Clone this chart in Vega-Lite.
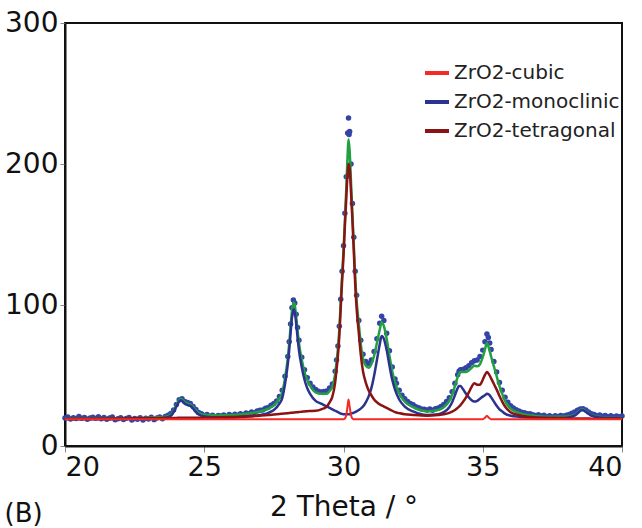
{
  "$schema": "https://vega.github.io/schema/vega-lite/v6.json",
  "width": 557,
  "height": 423,
  "autosize": {"type": "none"},
  "padding": {"left": 65, "top": 23, "right": 20, "bottom": 82},
  "background": "white",
  "config": {
    "view": {"stroke": "#111", "strokeWidth": 2},
    "font": "DejaVu Sans"
  },
  "title": {"text": "(B)", "orient": "bottom", "anchor": "start", "frame": "bounds", "fontSize": 26, "font": "DejaVu Sans", "fontWeight": "normal", "color": "#111", "offset": -20},
  "datasets": {
    "obs": [
      {"x":20.0,"y":19.8},{"x":20.1,"y":20.6},{"x":20.2,"y":19.2},{"x":20.3,"y":20.1},{"x":20.4,"y":19.5},{"x":20.5,"y":20.9},{"x":20.6,"y":19.7},{"x":20.7,"y":20.3},{"x":20.8,"y":18.9},{"x":20.9,"y":19.9},
      {"x":21.0,"y":20.4},{"x":21.1,"y":19.6},{"x":21.2,"y":20.8},{"x":21.3,"y":19.3},{"x":21.4,"y":20.2},{"x":21.5,"y":19.0},{"x":21.6,"y":19.9},{"x":21.7,"y":20.5},{"x":21.8,"y":18.6},{"x":21.9,"y":19.4},
      {"x":22.0,"y":20.1},{"x":22.1,"y":18.8},{"x":22.2,"y":19.6},{"x":22.3,"y":20.3},{"x":22.4,"y":18.4},{"x":22.5,"y":19.5},{"x":22.6,"y":18.9},{"x":22.7,"y":20.0},{"x":22.8,"y":18.5},{"x":22.9,"y":19.7},
      {"x":23.0,"y":19.2},{"x":23.1,"y":20.4},{"x":23.2,"y":18.7},{"x":23.3,"y":19.9},{"x":23.4,"y":20.6},{"x":23.5,"y":19.4},{"x":23.6,"y":21.0},{"x":23.7,"y":21.8},{"x":23.8,"y":23.0},{"x":23.9,"y":25.5},
      {"x":24.0,"y":29.5},{"x":24.1,"y":32.8},{"x":24.2,"y":33.6},{"x":24.3,"y":31.5},{"x":24.4,"y":30.8},{"x":24.5,"y":30.2},{"x":24.6,"y":28.0},{"x":24.7,"y":25.9},{"x":24.8,"y":23.8},{"x":24.9,"y":22.9},
      {"x":25.0,"y":21.6},{"x":25.1,"y":22.4},{"x":25.2,"y":21.1},{"x":25.3,"y":21.9},{"x":25.4,"y":20.8},{"x":25.5,"y":21.7},{"x":25.6,"y":21.2},{"x":25.7,"y":22.0},{"x":25.8,"y":21.0},{"x":25.9,"y":22.3},
      {"x":26.0,"y":21.5},{"x":26.1,"y":22.6},{"x":26.2,"y":21.8},{"x":26.3,"y":22.9},{"x":26.4,"y":22.2},{"x":26.5,"y":23.4},{"x":26.6,"y":22.9},{"x":26.7,"y":24.1},{"x":26.8,"y":23.6},{"x":26.9,"y":24.8},
      {"x":27.0,"y":25.3},{"x":27.1,"y":25.6},{"x":27.2,"y":26.8},{"x":27.3,"y":27.4},{"x":27.4,"y":28.9},{"x":27.5,"y":30.1},{"x":27.6,"y":32.0},{"x":27.7,"y":35.2},{"x":27.8,"y":39.5},{"x":27.9,"y":49.5},
      {"x":28.0,"y":63.5},{"x":28.05,"y":74},{"x":28.1,"y":86.5},{"x":28.15,"y":98},{"x":28.2,"y":103.5},{"x":28.25,"y":101.5},{"x":28.3,"y":93.5},{"x":28.35,"y":84},{"x":28.4,"y":75},{"x":28.5,"y":63},
      {"x":28.6,"y":54},{"x":28.7,"y":48.5},{"x":28.8,"y":44.5},{"x":28.9,"y":41.8},{"x":29.0,"y":40},{"x":29.1,"y":38.8},{"x":29.2,"y":38.3},{"x":29.3,"y":38.6},{"x":29.4,"y":39},{"x":29.5,"y":41.2},
      {"x":29.6,"y":44},{"x":29.7,"y":53},{"x":29.75,"y":61},{"x":29.8,"y":71},{"x":29.85,"y":85},{"x":29.9,"y":104},{"x":29.95,"y":124},{"x":30.0,"y":142},{"x":30.05,"y":165},{"x":30.1,"y":191},
      {"x":30.15,"y":222},{"x":30.18,"y":232.6},{"x":30.2,"y":221},{"x":30.22,"y":223},{"x":30.27,"y":200},{"x":30.32,"y":172},{"x":30.37,"y":148},{"x":30.42,"y":124},{"x":30.47,"y":107},{"x":30.55,"y":89},
      {"x":30.62,"y":75},{"x":30.7,"y":65},{"x":30.8,"y":60},{"x":30.9,"y":58.5},{"x":31.0,"y":61},{"x":31.1,"y":67},{"x":31.2,"y":76},{"x":31.3,"y":87},{"x":31.37,"y":92},{"x":31.45,"y":89},
      {"x":31.55,"y":80},{"x":31.65,"y":67.5},{"x":31.75,"y":56},{"x":31.85,"y":47.5},{"x":31.9,"y":44.5},{"x":32.0,"y":39.5},{"x":32.1,"y":36},{"x":32.2,"y":33.5},{"x":32.3,"y":31.5},{"x":32.4,"y":30.2},
      {"x":32.5,"y":29.2},{"x":32.6,"y":27.8},{"x":32.7,"y":27.1},{"x":32.8,"y":26.3},{"x":32.9,"y":26.0},{"x":33.0,"y":25.6},{"x":33.1,"y":26.2},{"x":33.2,"y":25.3},{"x":33.3,"y":26.4},{"x":33.4,"y":27.0},
      {"x":33.5,"y":28.1},{"x":33.6,"y":29.5},{"x":33.7,"y":31.6},{"x":33.8,"y":34.2},{"x":33.9,"y":38.5},{"x":34.0,"y":44.5},{"x":34.1,"y":50.5},{"x":34.15,"y":53},{"x":34.2,"y":54},{"x":34.3,"y":54.5},
      {"x":34.4,"y":55.5},{"x":34.5,"y":57},{"x":34.6,"y":59},{"x":34.7,"y":60.5},{"x":34.8,"y":61},{"x":34.9,"y":63.5},{"x":35.0,"y":68},{"x":35.08,"y":74},{"x":35.15,"y":79.5},{"x":35.2,"y":77},
      {"x":35.25,"y":73},{"x":35.3,"y":68.5},{"x":35.4,"y":60},{"x":35.5,"y":52.5},{"x":35.6,"y":45},{"x":35.7,"y":39.5},{"x":35.8,"y":34.5},{"x":35.9,"y":31.0},{"x":36.0,"y":28.6},{"x":36.1,"y":27.0},
      {"x":36.2,"y":25.8},{"x":36.3,"y":24.9},{"x":36.4,"y":24.0},{"x":36.5,"y":23.6},{"x":36.6,"y":22.8},{"x":36.7,"y":22.9},{"x":36.8,"y":22.1},{"x":36.9,"y":21.6},{"x":37.0,"y":22.2},{"x":37.1,"y":21.3},
      {"x":37.2,"y":21.9},{"x":37.3,"y":20.8},{"x":37.4,"y":21.5},{"x":37.5,"y":20.6},{"x":37.6,"y":21.4},{"x":37.7,"y":20.9},{"x":37.8,"y":21.7},{"x":37.9,"y":21.2},{"x":38.0,"y":21.9},{"x":38.1,"y":22.4},
      {"x":38.2,"y":23.2},{"x":38.3,"y":24.1},{"x":38.4,"y":25.3},{"x":38.5,"y":26.3},{"x":38.6,"y":26.5},{"x":38.7,"y":25.6},{"x":38.8,"y":24.2},{"x":38.9,"y":22.9},{"x":39.0,"y":22.3},{"x":39.1,"y":21.5},
      {"x":39.2,"y":22.0},{"x":39.3,"y":21.1},{"x":39.4,"y":21.6},{"x":39.5,"y":20.8},{"x":39.6,"y":21.4},{"x":39.7,"y":20.6},{"x":39.8,"y":21.3},{"x":39.9,"y":20.7},{"x":40.0,"y":21.2}
    ],
    "comp": [
      {"x":20,"mono":19,"tetra":19.3,"cubic":19,"fit":19.3},
      {"x":21,"mono":19,"tetra":19.4,"cubic":19,"fit":19.4},
      {"x":22,"mono":19.1,"tetra":19.5,"cubic":19,"fit":19.6},
      {"x":23,"mono":19.3,"tetra":19.7,"cubic":19,"fit":20},
      {"x":23.6,"mono":20,"tetra":19.8,"cubic":19,"fit":20.8},
      {"x":23.8,"mono":21.5,"tetra":19.9,"cubic":19,"fit":22.4},
      {"x":23.9,"mono":24,"tetra":19.9,"cubic":19,"fit":24.9},
      {"x":24.0,"mono":28,"tetra":19.9,"cubic":19,"fit":28.9},
      {"x":24.1,"mono":31.5,"tetra":20,"cubic":19,"fit":32.5},
      {"x":24.15,"mono":32.5,"tetra":20,"cubic":19,"fit":33.5},
      {"x":24.2,"mono":32,"tetra":20,"cubic":19,"fit":33},
      {"x":24.3,"mono":30,"tetra":20,"cubic":19,"fit":31},
      {"x":24.4,"mono":29,"tetra":20,"cubic":19,"fit":30},
      {"x":24.5,"mono":28.5,"tetra":20,"cubic":19,"fit":29.5},
      {"x":24.6,"mono":26.5,"tetra":20.1,"cubic":19,"fit":27.6},
      {"x":24.7,"mono":24,"tetra":20.1,"cubic":19,"fit":25.1},
      {"x":24.8,"mono":22.3,"tetra":20.1,"cubic":19,"fit":23.4},
      {"x":25.0,"mono":21,"tetra":20.1,"cubic":19,"fit":22.1},
      {"x":25.5,"mono":20.3,"tetra":20.3,"cubic":19,"fit":21.6},
      {"x":26.0,"mono":20.3,"tetra":20.6,"cubic":19,"fit":21.9},
      {"x":26.5,"mono":20.8,"tetra":21,"cubic":19,"fit":22.8},
      {"x":27.0,"mono":22,"tetra":21.5,"cubic":19,"fit":24.5},
      {"x":27.3,"mono":23.5,"tetra":21.9,"cubic":19,"fit":26.4},
      {"x":27.5,"mono":25.5,"tetra":22.3,"cubic":19,"fit":28.8},
      {"x":27.7,"mono":30,"tetra":22.7,"cubic":19,"fit":33.7},
      {"x":27.8,"mono":34,"tetra":22.9,"cubic":19,"fit":37.9},
      {"x":27.9,"mono":44,"tetra":23.1,"cubic":19,"fit":48.1},
      {"x":28.0,"mono":58,"tetra":23.3,"cubic":19,"fit":62.3},
      {"x":28.05,"mono":68,"tetra":23.4,"cubic":19,"fit":72.4},
      {"x":28.1,"mono":80,"tetra":23.5,"cubic":19,"fit":84.5},
      {"x":28.15,"mono":91,"tetra":23.6,"cubic":19,"fit":95.6},
      {"x":28.21,"mono":97,"tetra":23.7,"cubic":19,"fit":101.7},
      {"x":28.25,"mono":95,"tetra":23.8,"cubic":19,"fit":99.8},
      {"x":28.3,"mono":87,"tetra":23.9,"cubic":19,"fit":91.9},
      {"x":28.35,"mono":77,"tetra":24,"cubic":19,"fit":82},
      {"x":28.4,"mono":68,"tetra":24.1,"cubic":19,"fit":73.1},
      {"x":28.5,"mono":56,"tetra":24.3,"cubic":19,"fit":61.3},
      {"x":28.6,"mono":47,"tetra":24.5,"cubic":19,"fit":52.5},
      {"x":28.7,"mono":41,"tetra":24.7,"cubic":19,"fit":46.7},
      {"x":28.8,"mono":37,"tetra":24.8,"cubic":19,"fit":42.8},
      {"x":29.0,"mono":32,"tetra":25,"cubic":19,"fit":38},
      {"x":29.2,"mono":30,"tetra":26,"cubic":19,"fit":37},
      {"x":29.4,"mono":28,"tetra":28,"cubic":19,"fit":37},
      {"x":29.5,"mono":27,"tetra":31,"cubic":19,"fit":39},
      {"x":29.6,"mono":26,"tetra":35,"cubic":19,"fit":42},
      {"x":29.7,"mono":25,"tetra":45,"cubic":19,"fit":51},
      {"x":29.75,"mono":24.5,"tetra":54,"cubic":19,"fit":59.5},
      {"x":29.8,"mono":24,"tetra":64,"cubic":19,"fit":69},
      {"x":29.85,"mono":23.5,"tetra":78,"cubic":19,"fit":82.5},
      {"x":29.9,"mono":23,"tetra":98,"cubic":19,"fit":102},
      {"x":29.95,"mono":22.8,"tetra":117,"cubic":19,"fit":120.8},
      {"x":30.0,"mono":22.5,"tetra":135,"cubic":19,"fit":138.5},
      {"x":30.05,"mono":22.5,"tetra":156,"cubic":19.5,"fit":160},
      {"x":30.1,"mono":22.5,"tetra":176,"cubic":22,"fit":182.5},
      {"x":30.15,"mono":22.5,"tetra":194,"cubic":29,"fit":207.5},
      {"x":30.18,"mono":22.5,"tetra":200,"cubic":33,"fit":217.5},
      {"x":30.22,"mono":22.5,"tetra":197,"cubic":28,"fit":209.5},
      {"x":30.27,"mono":23,"tetra":180,"cubic":22,"fit":187},
      {"x":30.32,"mono":23.3,"tetra":160,"cubic":19.5,"fit":164.8},
      {"x":30.37,"mono":23.6,"tetra":138,"cubic":19,"fit":142.6},
      {"x":30.42,"mono":24,"tetra":115,"cubic":19,"fit":120},
      {"x":30.47,"mono":24.5,"tetra":98,"cubic":19,"fit":103.5},
      {"x":30.55,"mono":25.5,"tetra":80,"cubic":19,"fit":86.5},
      {"x":30.62,"mono":26.5,"tetra":65,"cubic":19,"fit":72.5},
      {"x":30.7,"mono":28,"tetra":53,"cubic":19,"fit":62},
      {"x":30.8,"mono":31,"tetra":45,"cubic":19,"fit":57},
      {"x":30.9,"mono":35,"tetra":39.5,"cubic":19,"fit":55.5},
      {"x":31.0,"mono":41,"tetra":36,"cubic":19,"fit":58},
      {"x":31.1,"mono":50,"tetra":33,"cubic":19,"fit":64},
      {"x":31.2,"mono":61,"tetra":31,"cubic":19,"fit":73},
      {"x":31.3,"mono":72,"tetra":29.5,"cubic":19,"fit":82.5},
      {"x":31.37,"mono":78,"tetra":28.8,"cubic":19,"fit":87.8},
      {"x":31.45,"mono":76,"tetra":28,"cubic":19,"fit":85},
      {"x":31.55,"mono":68,"tetra":27,"cubic":19,"fit":76},
      {"x":31.65,"mono":57,"tetra":26,"cubic":19,"fit":64},
      {"x":31.75,"mono":47,"tetra":25,"cubic":19,"fit":53},
      {"x":31.85,"mono":40,"tetra":24,"cubic":19,"fit":45},
      {"x":32.0,"mono":33,"tetra":23.3,"cubic":19,"fit":37.3},
      {"x":32.2,"mono":28,"tetra":22.5,"cubic":19,"fit":31.5},
      {"x":32.5,"mono":24.5,"tetra":22,"cubic":19,"fit":27.5},
      {"x":33.0,"mono":22,"tetra":21.5,"cubic":19,"fit":24.5},
      {"x":33.4,"mono":22.5,"tetra":22,"cubic":19,"fit":25.5},
      {"x":33.6,"mono":24,"tetra":22.5,"cubic":19,"fit":27.5},
      {"x":33.8,"mono":27.5,"tetra":23.5,"cubic":19,"fit":32},
      {"x":33.9,"mono":31,"tetra":24.3,"cubic":19,"fit":36.3},
      {"x":34.0,"mono":36,"tetra":25.5,"cubic":19,"fit":42.5},
      {"x":34.1,"mono":41,"tetra":27,"cubic":19,"fit":49},
      {"x":34.15,"mono":42.5,"tetra":28,"cubic":19,"fit":51.5},
      {"x":34.2,"mono":42.5,"tetra":29,"cubic":19,"fit":52.5},
      {"x":34.3,"mono":40,"tetra":31.5,"cubic":19,"fit":52.5},
      {"x":34.4,"mono":37,"tetra":34.5,"cubic":19,"fit":52.5},
      {"x":34.5,"mono":34.5,"tetra":38,"cubic":19,"fit":53.5},
      {"x":34.6,"mono":32.5,"tetra":42,"cubic":19,"fit":55.5},
      {"x":34.7,"mono":31.5,"tetra":44.5,"cubic":19,"fit":57},
      {"x":34.8,"mono":32,"tetra":43.5,"cubic":19,"fit":56.5},
      {"x":34.9,"mono":33.5,"tetra":43.5,"cubic":19,"fit":58},
      {"x":35.0,"mono":35,"tetra":47,"cubic":19,"fit":63},
      {"x":35.08,"mono":36,"tetra":50.5,"cubic":20,"fit":68.5},
      {"x":35.15,"mono":37,"tetra":52.5,"cubic":21.5,"fit":73},
      {"x":35.22,"mono":36.5,"tetra":51,"cubic":20,"fit":69.5},
      {"x":35.3,"mono":34.5,"tetra":48,"cubic":19,"fit":63.5},
      {"x":35.4,"mono":31.5,"tetra":44,"cubic":19,"fit":56.5},
      {"x":35.5,"mono":28.5,"tetra":40,"cubic":19,"fit":49.5},
      {"x":35.6,"mono":26,"tetra":35.5,"cubic":19,"fit":42.5},
      {"x":35.7,"mono":24.5,"tetra":31.5,"cubic":19,"fit":37},
      {"x":35.8,"mono":23,"tetra":28,"cubic":19,"fit":32},
      {"x":36.0,"mono":21.5,"tetra":24,"cubic":19,"fit":26.5},
      {"x":36.3,"mono":20.7,"tetra":21.8,"cubic":19,"fit":23.5},
      {"x":36.6,"mono":20.2,"tetra":20.8,"cubic":19,"fit":22},
      {"x":37.0,"mono":19.9,"tetra":20.2,"cubic":19,"fit":21.1},
      {"x":37.5,"mono":19.9,"tetra":19.8,"cubic":19,"fit":20.7},
      {"x":38.0,"mono":20.1,"tetra":19.6,"cubic":19,"fit":20.7},
      {"x":38.3,"mono":21.5,"tetra":19.5,"cubic":19,"fit":22},
      {"x":38.45,"mono":24,"tetra":19.5,"cubic":19,"fit":24.5},
      {"x":38.55,"mono":25.5,"tetra":19.5,"cubic":19,"fit":26},
      {"x":38.65,"mono":25,"tetra":19.5,"cubic":19,"fit":25.5},
      {"x":38.75,"mono":23.5,"tetra":19.5,"cubic":19,"fit":24},
      {"x":38.9,"mono":21.5,"tetra":19.4,"cubic":19,"fit":21.9},
      {"x":39.2,"mono":20.2,"tetra":19.4,"cubic":19,"fit":20.6},
      {"x":40,"mono":19.5,"tetra":19.3,"cubic":19,"fit":19.8}
    ]
  },
  "encoding": {
    "x": {
      "field": "x", "type": "quantitative",
      "scale": {"domain": [20, 40], "nice": false},
      "axis": {"values": [20, 25, 30, 35, 40], "title": "2 Theta / °", "grid": false,
        "domain": true, "domainColor": "#111", "domainWidth": 2,
        "tickColor": "#888", "tickSize": 6, "tickWidth": 1,
        "labelFont": "DejaVu Sans", "labelFontSize": 27, "labelColor": "#111", "labelPadding": 2,
        "titleFont": "DejaVu Sans", "titleFontSize": 28, "titleFontWeight": "normal", "titleColor": "#111", "titlePadding": 13}
    }
  },
  "layer": [
    {
      "data": {"name": "obs"},
      "mark": {"type": "point", "filled": true, "size": 30, "color": "#3444a6", "opacity": 1},
      "encoding": {
        "y": {"field": "y", "type": "quantitative",
          "scale": {"domain": [0, 300], "nice": false},
          "axis": {"values": [0, 100, 200, 300], "title": null, "grid": false,
            "domain": true, "domainColor": "#111", "domainWidth": 2,
            "tickColor": "#888", "tickSize": 5, "tickWidth": 1,
            "labelFont": "DejaVu Sans", "labelFontSize": 28, "labelColor": "#111", "labelPadding": 2}}
      }
    },
    {
      "data": {"name": "comp"},
      "mark": {"type": "line", "color": "#22a040", "strokeWidth": 2.5, "interpolate": "monotone"},
      "encoding": {"y": {"field": "fit", "type": "quantitative"}}
    },
    {
      "data": {"name": "comp"},
      "mark": {"type": "line", "strokeWidth": 2.5, "interpolate": "monotone"},
      "encoding": {"y": {"field": "mono", "type": "quantitative"}, "color": {"datum": "ZrO2-monoclinic"}}
    },
    {
      "data": {"name": "comp"},
      "mark": {"type": "line", "strokeWidth": 2.5, "interpolate": "monotone"},
      "encoding": {"y": {"field": "tetra", "type": "quantitative"}, "color": {"datum": "ZrO2-tetragonal"}}
    },
    {
      "data": {"name": "comp"},
      "mark": {"type": "line", "strokeWidth": 2, "interpolate": "monotone"},
      "encoding": {
        "y": {"field": "cubic", "type": "quantitative"},
        "color": {"datum": "ZrO2-cubic", "type": "nominal",
          "scale": {"domain": ["ZrO2-cubic", "ZrO2-monoclinic", "ZrO2-tetragonal"], "range": ["#f42a24", "#2c3290", "#8a1414"]},
          "legend": {"title": null, "orient": "none", "legendX": 358, "legendY": 36,
            "symbolType": "stroke", "symbolSize": 576, "symbolStrokeWidth": 4,
            "labelFont": "DejaVu Sans", "labelFontSize": 20, "labelColor": "#222", "labelOffset": 3, "labelLimit": 400,
            "rowPadding": 5, "padding": 0}}
      }
    }
  ]
}
